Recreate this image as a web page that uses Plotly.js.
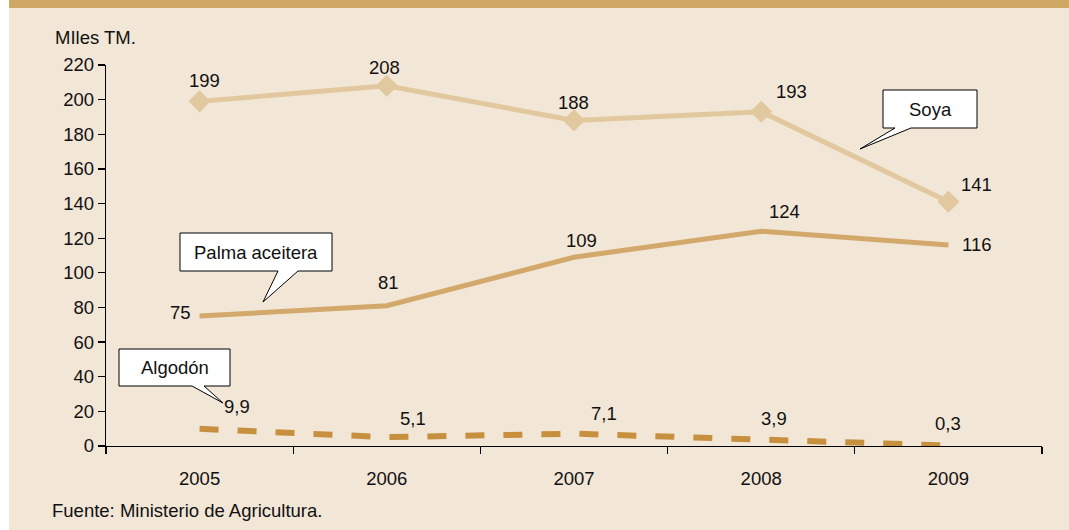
<!DOCTYPE html>
<html>
<head>
<meta charset="utf-8">
<script src="https://cdn.plot.ly/plotly-3.0.1.min.js"></script>
<style>
html,body{margin:0;padding:0;background:#ffffff;}
#chart{width:1069px;height:530px;}
</style>
</head>
<body>
<div id="chart"></div>
<script>
// ---- data ----
var years = ['2005', '2006', '2007', '2008', '2009'];
var soya = [199, 208, 188, 193, 141];
var palma = [75, 81, 109, 124, 116];
var algodon = [9.9, 5.1, 7.1, 3.9, 0.3];
var yTicks = [0, 20, 40, 60, 80, 100, 120, 140, 160, 180, 200, 220];

// ---- label offsets (pixels) ----
var soyaShift = [[5, 21], [-2, 18], [-1, 18], [30, 20], [28, 17]];
var palmaShift = [[-19, 4], [2, 23], [7, 17], [23, 20], [29, 1]];
var algShift = [[37, 22], [26, 19], [30, 20], [13, 21], [0, 22]];

// ---- geometry helpers ----
var W = 1069, H = 530;
var mL = 106, mR = 27, mT = 65, mB = 84;
var pw = W - mL - mR, ph = H - mT - mB;
function px(x) { return (x - mL) / pw; }
function py(y) { return (H - mB - y) / ph; }

var FONT = 'Liberation Sans, Arial, sans-serif';
var FS = 18.5;

function fmt(v) { return String(v).replace('.', ','); }

var traces = [
  {
    x: years, y: soya, type: 'scatter', mode: 'lines+markers',
    line: {color: '#e2c89e', width: 5},
    marker: {symbol: 'diamond', size: 17, color: '#e2c89e'},
    hoverinfo: 'none'
  },
  {
    x: years, y: palma, type: 'scatter', mode: 'lines',
    line: {color: '#d3a96b', width: 5},
    hoverinfo: 'none'
  },
  {
    x: years, y: algodon, type: 'scatter', mode: 'lines',
    line: {color: '#c7903f', width: 6, dash: '19px,19px'},
    hoverinfo: 'none'
  }
];

var annotations = [];
function addLabels(vals, shifts) {
  for (var i = 0; i < vals.length; i++) {
    annotations.push({
      x: i, y: vals[i], xref: 'x', yref: 'y',   // category index of years[i]
      text: fmt(vals[i]), showarrow: false,
      xshift: shifts[i][0], yshift: shifts[i][1],
      font: {family: FONT, size: FS, color: '#111111'}
    });
  }
}
addLabels(soya, soyaShift);
addLabels(palma, palmaShift);
addLabels(algodon, algShift);

// callout boxes: [x0, x1, y0, y1, wedgeBase1, wedgeBase2, tipX, tipY, text]
var callouts = [
  [883, 977, 90, 128, 895, 911, 860, 149, 'Soya'],
  [180, 332, 233, 271, 278, 298, 263, 302, 'Palma aceitera'],
  [119, 230, 349, 386, 192, 204, 223, 403, 'Algodón']
];

var shapes = [
  {type: 'rect', xref: 'paper', yref: 'paper', x0: px(0), x1: px(9), y0: py(H), y1: py(0),
   fillcolor: '#ffffff', line: {width: 0}, layer: 'below'},
  {type: 'rect', xref: 'paper', yref: 'paper', x0: px(9), x1: px(W), y0: py(8), y1: py(0),
   fillcolor: '#d0a865', line: {width: 0}, layer: 'below'}
];

callouts.forEach(function (c) {
  var path = 'M' + px(c[0]) + ',' + py(c[2]) +
    ' L' + px(c[1]) + ',' + py(c[2]) +
    ' L' + px(c[1]) + ',' + py(c[3]) +
    ' L' + px(c[5]) + ',' + py(c[3]) +
    ' L' + px(c[6]) + ',' + py(c[7]) +
    ' L' + px(c[4]) + ',' + py(c[3]) +
    ' L' + px(c[0]) + ',' + py(c[3]) + ' Z';
  shapes.push({type: 'path', xref: 'paper', yref: 'paper', path: path,
    fillcolor: '#ffffff', line: {color: '#000000', width: 1}, layer: 'above'});
  annotations.push({
    xref: 'paper', yref: 'paper', x: px((c[0] + c[1]) / 2), y: py((c[2] + c[3]) / 2),
    xanchor: 'center', yanchor: 'middle', showarrow: false, text: c[8],
    font: {family: FONT, size: FS, color: '#111111'}
  });
});

annotations.push({
  xref: 'paper', yref: 'paper', x: px(53), y: py(38), xanchor: 'left', yanchor: 'middle',
  showarrow: false, text: 'MIles TM.', font: {family: FONT, size: FS, color: '#111111'}
});
annotations.push({
  xref: 'paper', yref: 'paper', x: px(50), y: py(510), xanchor: 'left', yanchor: 'middle',
  showarrow: false, text: 'Fuente: Ministerio de Agricultura.', font: {family: FONT, size: FS, color: '#111111'}
});

var layout = {
  width: W, height: H,
  margin: {l: mL, r: mR, t: mT, b: mB, pad: 0},
  paper_bgcolor: '#f2e6d7',
  plot_bgcolor: 'rgba(0,0,0,0)',
  showlegend: false,
  font: {family: FONT, size: FS, color: '#111111'},
  xaxis: {
    type: 'category', range: [-0.5, 4.5], tickson: 'boundaries',
    showgrid: false, zeroline: false, showline: true, linecolor: '#000000', linewidth: 1.3,
    ticks: 'outside', ticklen: 7, tickcolor: '#000000', tickwidth: 1.3,
    ticklabelstandoff: 15,
    tickfont: {family: FONT, size: FS, color: '#111111'}, fixedrange: true
  },
  yaxis: {
    range: [0, 220], tickvals: yTicks, ticktext: yTicks.map(String),
    showgrid: false, zeroline: false, showline: true, linecolor: '#000000', linewidth: 1.3,
    ticks: 'outside', ticklen: 7, tickcolor: '#000000', tickwidth: 1.3,
    tickfont: {family: FONT, size: FS, color: '#111111'}, fixedrange: true
  },
  shapes: shapes,
  annotations: annotations
};

Plotly.newPlot('chart', traces, layout, {displayModeBar: false, staticPlot: true});
</script>
</body>
</html>
